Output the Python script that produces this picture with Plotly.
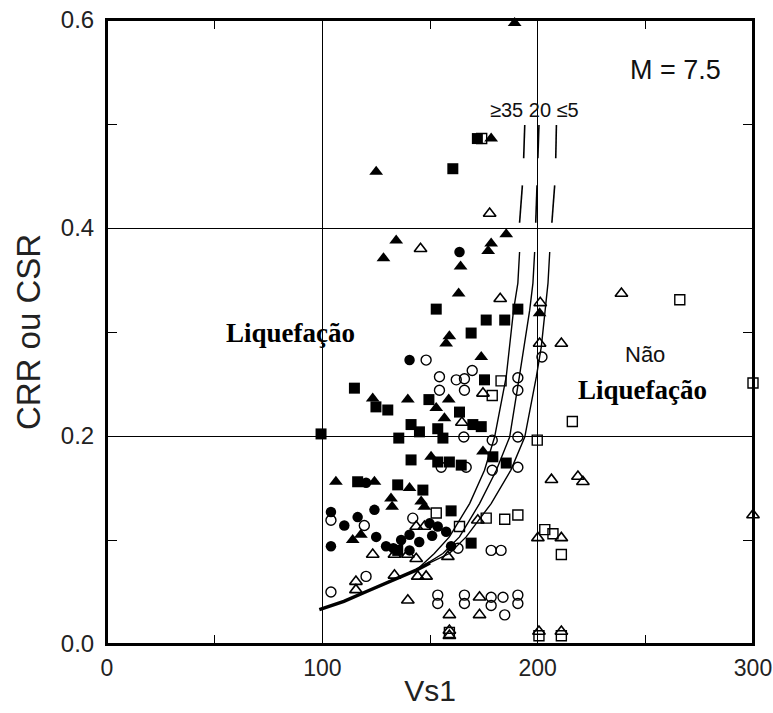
import plotly.graph_objects as go

# ---------------- data ----------------
ft_x = [189.3, 125, 178.4, 185.4, 134.3, 178.4, 177, 128.4, 164.2, 163.3, 200.9, 159, 157.5, 173.8,
        123.4, 139.7, 158.7, 152.9, 150.5, 174.6, 106.3, 124.2, 140.5, 131.9, 132.4, 145.9, 147.4,
        114.1, 117.9, 156.7]
ft_y = [0.597, 0.454, 0.486, 0.394, 0.388, 0.385, 0.378, 0.371, 0.363, 0.337, 0.318, 0.296, 0.289, 0.276,
        0.236, 0.235, 0.235, 0.227, 0.180, 0.185, 0.156, 0.156, 0.150, 0.140, 0.132, 0.137, 0.132,
        0.100, 0.105, 0.217]

fs_x = [160.6, 172, 152.9, 190.8, 176.1, 184.7, 169.1, 175.3, 114.9, 124.9, 130.4, 149.5, 163.7, 169.9,
        173.8, 141.2, 145.1, 153.6, 156, 135.5, 99.4, 141.2, 153.6, 159, 164.5, 179.2, 185.4, 116.4,
        135, 146.7, 159.8, 135, 169.1]
fs_y = [0.457, 0.486, 0.322, 0.322, 0.3115, 0.3115, 0.299, 0.254, 0.246, 0.228, 0.225, 0.235, 0.223, 0.211,
        0.209, 0.211, 0.204, 0.207, 0.198, 0.198, 0.202, 0.177, 0.175, 0.175, 0.172, 0.180, 0.174, 0.156,
        0.153, 0.148, 0.128, 0.090, 0.097]

fc_x = [163.7, 140.5, 120.3, 104, 116.4, 124.2, 110.2, 104, 125, 129.6, 136.6, 140.5, 149.8, 153.6,
        157.5, 140.5, 159.8, 151, 145, 133]
fc_y = [0.377, 0.273, 0.155, 0.127, 0.122, 0.129, 0.114, 0.094, 0.103, 0.094, 0.100, 0.105, 0.116, 0.113,
        0.108, 0.090, 0.094, 0.104, 0.098, 0.092]

ot_x = [177.7, 182.6, 201.2, 145.6, 200.9, 174.6, 164.8, 172.2, 143.6, 147.4, 123.4, 133.5, 139.7, 143.6,
        158.3, 133.5, 144.3, 148.2, 115.6, 115.6, 139.7, 173, 159, 173, 159, 159, 200.6, 211, 238.9,
        211, 206.4, 218.7, 221, 300, 200.1, 211]
ot_y = [0.414, 0.332, 0.328, 0.380, 0.289, 0.241, 0.213, 0.119, 0.113, 0.113, 0.086, 0.086, 0.086, 0.082,
        0.084, 0.066, 0.065, 0.065, 0.060, 0.052, 0.042, 0.045, 0.028, 0.028, 0.013, 0.008, 0.012, 0.012,
        0.337, 0.289, 0.158, 0.161, 0.156, 0.124, 0.102, 0.102]

os_x = [174, 183, 178.9, 199.8, 152.9, 176.1, 184.7, 190.8, 163.7, 266, 300, 216.1, 203.3, 207.1, 211,
        159, 200.6, 211]
os_y = [0.486, 0.253, 0.239, 0.196, 0.126, 0.121, 0.120, 0.124, 0.113, 0.331, 0.251, 0.214, 0.110, 0.106,
        0.086, 0.011, 0.008, 0.008]

oc_x = [202, 148.2, 169.6, 154.4, 162.2, 166, 190.8, 154.4, 166, 190.8, 165.7, 178.9, 190.8, 155.2, 166.8,
        178.9, 190.8, 104, 119.5, 142, 163, 178.4, 183, 120.3, 104, 153.6, 153.6, 166, 166, 178.4, 178.4,
        183.9, 190.8, 190.8, 184.7]
oc_y = [0.276, 0.273, 0.263, 0.257, 0.254, 0.255, 0.256, 0.244, 0.244, 0.244, 0.199, 0.196, 0.199, 0.170,
        0.170, 0.167, 0.170, 0.119, 0.114, 0.121, 0.092, 0.090, 0.090, 0.065, 0.050, 0.047, 0.039, 0.047,
        0.039, 0.045, 0.037, 0.045, 0.047, 0.039, 0.028]

# common lower branch of the three boundary curves
base_x = [98.6, 110, 120, 132.7, 143.6, 150]
base_y = [0.033, 0.041, 0.050, 0.0615, 0.071, 0.078]
# ≥35 %
c35_x = [143.6, 152, 159, 168.4, 175.3, 180, 185.4, 188.8, 190.8, 191.6]
c35_y = [0.071, 0.087, 0.103, 0.135, 0.167, 0.199, 0.257, 0.321, 0.347, 0.377]
# 20 %
c20_x = [143.6, 156, 163.7, 173, 180.8, 187, 191.5, 196.3, 197.8, 198.6]
c20_y = [0.071, 0.087, 0.103, 0.135, 0.167, 0.199, 0.257, 0.321, 0.347, 0.377]
# ≤5 %
c5_x = [143.6, 149.8, 159, 166.8, 178.4, 187.5, 194, 199.4, 201.7, 203.3, 204.8, 205.6]
c5_y = [0.071, 0.078, 0.087, 0.103, 0.135, 0.167, 0.199, 0.257, 0.286, 0.321, 0.347, 0.377]
# dashed upper continuations
dash_x = [191.6, 192.9, None, 193.5, 194, None, 199.1, 199.7, None, 200.1, 200.6, None,
          206.6, 207.9, None, 208.4, 208.7]
dash_y = [0.405, 0.441, None, 0.467, 0.499, None, 0.405, 0.441, None, 0.467, 0.499, None,
          0.405, 0.441, None, 0.467, 0.499]

# ---------------- figure ----------------
fig = go.Figure()

def curve(x, y, w):
    fig.add_trace(go.Scatter(x=x, y=y, mode="lines", line=dict(color="black", width=w),
                             hoverinfo="skip", showlegend=False))

curve(base_x, base_y, 3.5)
curve(c35_x, c35_y, 1.4)
curve(c20_x, c20_y, 1.4)
curve(c5_x, c5_y, 1.4)
curve(dash_x, dash_y, 1.6)

def pts(x, y, sym, size, lw=1.4):
    fig.add_trace(go.Scatter(x=x, y=y, mode="markers", showlegend=False, cliponaxis=False,
                             marker=dict(symbol=sym, size=size, color="black",
                                         line=dict(color="black", width=lw))))

pts(ot_x, ot_y, "triangle-up-open", 11, 1.6)
pts(os_x, os_y, "square-open", 10, 1.4)
pts(oc_x, oc_y, "circle-open", 10, 1.4)
pts(ft_x, ft_y, "triangle-up", 12, 0)
pts(fs_x, fs_y, "square", 11, 0)
pts(fc_x, fc_y, "circle", 10.5, 0)

sans = "Liberation Sans, Arial, sans-serif"
serif = "Liberation Serif, Times New Roman, serif"

fig.add_annotation(x=264, y=0.552, text="M = 7.5", showarrow=False,
                   font=dict(family=sans, size=27, color="#111"))
fig.add_annotation(x=198.5, y=0.513, text="≥35 20 ≤5", showarrow=False,
                   font=dict(family=sans, size=20, color="#111"))
fig.add_annotation(x=85, y=0.299, text="<b>Liquefação</b>", showarrow=False,
                   font=dict(family=serif, size=27, color="black"))
fig.add_annotation(x=250, y=0.278, text="Não", showarrow=False,
                   font=dict(family=sans, size=22, color="#111"))
fig.add_annotation(x=248.5, y=0.244, text="<b>Liquefação</b>", showarrow=False,
                   font=dict(family=serif, size=27, color="black"))

# plot frame
fig.add_shape(type="rect", xref="x domain", yref="y domain", x0=0, x1=1, y0=0, y1=1,
              line=dict(color="black", width=2), layer="below")

fig.update_layout(
    width=773, height=713,
    margin=dict(l=107, r=20, t=20, b=69),
    plot_bgcolor="white", paper_bgcolor="white",
    font=dict(family=sans, color="#222"),
)
fig.update_xaxes(
    range=[0, 300], dtick=100, tick0=0, automargin=False, ticklabeloverflow="allow",
    showline=True, linecolor="black", linewidth=2, mirror="allticks",
    showgrid=True, gridcolor="black", gridwidth=1.3, zeroline=False,
    ticks="", ticklabelstandoff=2, tickfont=dict(family=sans, size=23, color="#222"),
    minor=dict(dtick=50, tick0=0, ticks="inside", ticklen=9, tickcolor="black", tickwidth=1.3, showgrid=False),
    title=dict(text="Vs1", font=dict(family=sans, size=30, color="#222"), standoff=0),
)
fig.update_yaxes(
    range=[0, 0.6], dtick=0.2, tick0=0, tickformat=".1f", automargin=False, ticklabeloverflow="allow",
    showline=True, linecolor="black", linewidth=2, mirror="allticks",
    showgrid=True, gridcolor="black", gridwidth=1.3, zeroline=False,
    ticks="", ticklabelstandoff=6, tickfont=dict(family=sans, size=24, color="#222"),
    minor=dict(dtick=0.1, tick0=0, ticks="inside", ticklen=10, tickcolor="black", tickwidth=1.3, showgrid=False),
    title=dict(text="CRR ou CSR", font=dict(family=sans, size=33, color="#222"), standoff=10),
)

fig.write_html("out.html")
